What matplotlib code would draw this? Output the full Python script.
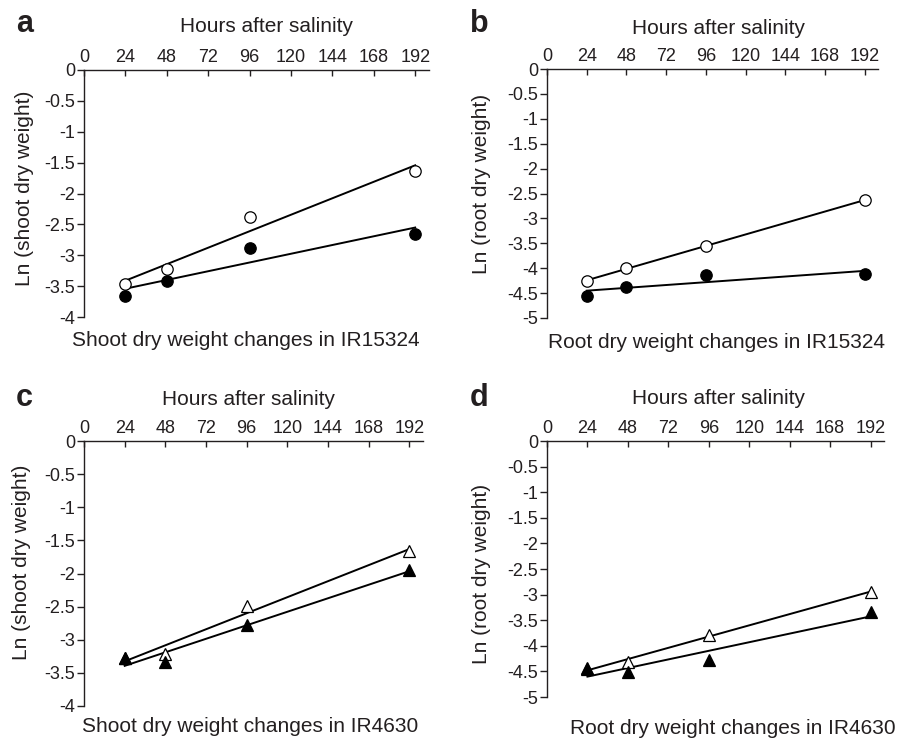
import numpy as np
import matplotlib
matplotlib.use("Agg")
import matplotlib.pyplot as plt

plt.rcParams['font.family'] = ['Liberation Sans', 'DejaVu Sans']

# ---- data ----
hours = [24, 48, 96, 192]
x_ticks = [0, 24, 48, 72, 96, 120, 144, 168, 192]

a_open = [-3.47, -3.23, -2.38, -1.63]
a_filled = [-3.66, -3.42, -2.88, -2.65]
b_open = [-4.25, -4.00, -3.56, -2.63]
b_filled = [-4.55, -4.38, -4.13, -4.12]
c_open = [-3.28, -3.21, -2.49, -1.66]
c_filled = [-3.28, -3.33, -2.77, -1.95]
d_open = [-4.45, -4.32, -3.78, -2.95]
d_filled = [-4.43, -4.52, -4.27, -3.34]

y_ticks_4 = [0, -0.5, -1, -1.5, -2, -2.5, -3, -3.5, -4]
y_ticks_5 = [0, -0.5, -1, -1.5, -2, -2.5, -3, -3.5, -4, -4.5, -5]
y_labels_4 = ['0', '-0.5', '-1', '-1.5', '-2', '-2.5', '-3', '-3.5', '-4']
y_labels_5 = ['0', '-0.5', '-1', '-1.5', '-2', '-2.5', '-3', '-3.5', '-4', '-4.5', '-5']

panel_letters = ['a', 'b', 'c', 'd']
top_title = 'Hours after salinity'
y_titles = ['Ln (shoot dry weight)', 'Ln (root dry weight)',
            'Ln (shoot dry weight)', 'Ln (root dry weight)']
bottom_titles = ['Shoot dry weight changes in IR15324',
                 'Root dry weight changes in IR15324',
                 'Shoot dry weight changes in IR4630',
                 'Root dry weight changes in IR4630']

W, H = 898, 738
fig = plt.figure(figsize=(W / 100, H / 100), dpi=100)
TXT = '#231f20'


def px_axes(left, right, top, bottom):
    return fig.add_axes([left / W, 1 - bottom / H, (right - left) / W, (bottom - top) / H])


# pixel layout: (left, right, top, bottom)
layouts = [(84, 429, 70, 317), (547, 878, 69, 318),
           (84, 423, 441, 706), (547, 884, 441, 697)]
letter_pos = [(16, 32), (470, 32), (16, 406), (470, 406)]
top_title_pos = [(266, 26), (719, 28), (249, 400), (719, 399)]
ylabel_pos = [(25, 188), (481, 184), (22, 562), (481, 574)]
bottom_pos = [(246, 341), (717, 342), (250, 727), (733, 728)]

series = [(a_open, a_filled, 'o', y_ticks_4, y_labels_4),
          (b_open, b_filled, 'o', y_ticks_5, y_labels_5),
          (c_open, c_filled, '^', y_ticks_4, y_labels_4),
          (d_open, d_filled, '^', y_ticks_5, y_labels_5)]

for i, (yo, yf, mk, yt, yl) in enumerate(series):
    ax = px_axes(*layouts[i])
    ax.set_xlim(0, 200)
    ax.set_ylim(yt[-1], 0)
    for s in ['right', 'bottom']:
        ax.spines[s].set_visible(False)
    for s in ['left', 'top']:
        ax.spines[s].set_linewidth(1.0)
        ax.spines[s].set_color(TXT)
    ax.xaxis.tick_top()
    ax.set_xticks(x_ticks)
    ax.set_xticklabels([str(t) for t in x_ticks])
    ax.set_yticks(yt)
    ax.set_yticklabels(yl)
    ax.tick_params(axis='x', direction='in', length=4, width=1.0, pad=3,
                   labelsize=13, colors=TXT)
    ax.tick_params(axis='y', direction='out', length=5, width=1.0, pad=1.5,
                   labelsize=13, colors=TXT)
    ax.patch.set_alpha(0)

    ms = 8.2 if mk == 'o' else 9
    xs = np.array(hours, dtype=float)
    for ys in (yo, yf):
        k, b0 = np.polyfit(xs, np.array(ys), 1)
        ax.plot([xs[0], xs[-1]], [k * xs[0] + b0, k * xs[-1] + b0],
                color='black', lw=1.4, zorder=2, clip_on=False)
    ax.plot(hours, yo, linestyle='none', marker=mk, ms=ms, mfc='white',
            mec='black', mew=0.9, zorder=3, clip_on=False)
    ax.plot(hours, yf, linestyle='none', marker=mk, ms=ms, mfc='black',
            mec='black', mew=0.9, zorder=4, clip_on=False)

    lx, ly = letter_pos[i]
    fig.text(lx / W, 1 - ly / H, panel_letters[i], fontsize=22, fontweight='bold',
             color=TXT, ha='left', va='baseline')
    tx, ty = top_title_pos[i]
    fig.text(tx / W, 1 - ty / H, top_title, fontsize=15, color=TXT,
             ha='center', va='center')
    yx, yy = ylabel_pos[i]
    fig.text(yx / W, 1 - yy / H, y_titles[i], fontsize=15, color=TXT,
             ha='center', va='center', rotation=90)
    bx, by = bottom_pos[i]
    fig.text(bx / W, 1 - by / H, bottom_titles[i], fontsize=15, color=TXT,
             ha='center', va='center')

fig.savefig('out.png', dpi=100)
